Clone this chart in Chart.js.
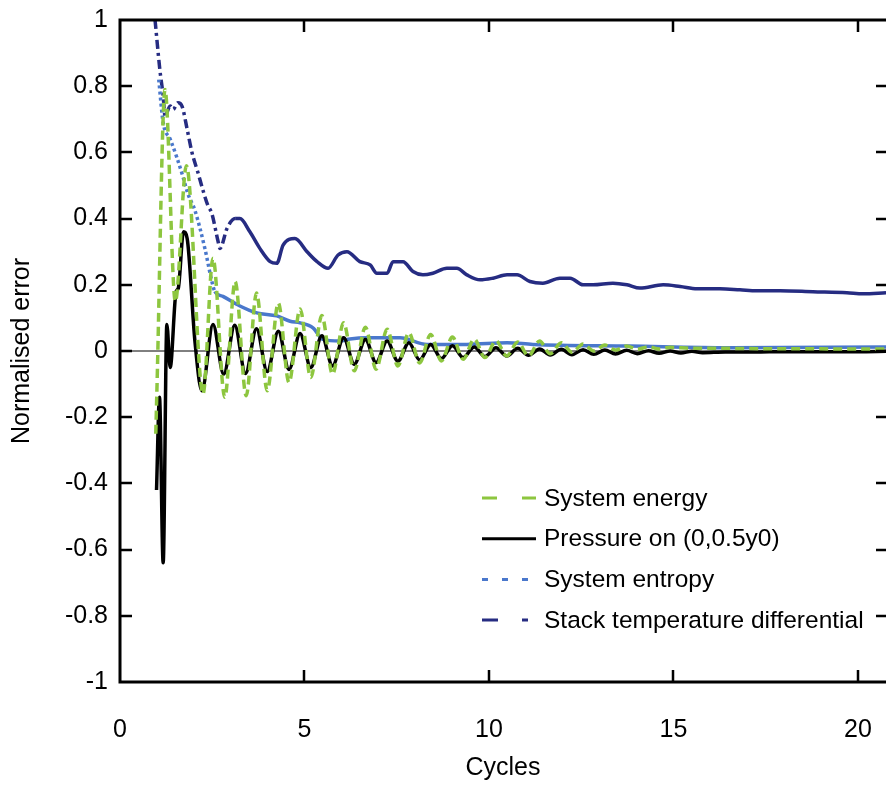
<!DOCTYPE html>
<html>
<head>
<meta charset="utf-8">
<script src="https://cdn.jsdelivr.net/npm/chart.js@4.4.1/dist/chart.umd.min.js"></script>
<style>
  html, body { margin: 0; padding: 0; background: #fff; overflow: hidden; }
  #wrap { width: 886px; height: 793px; position: relative; }
</style>
</head>
<body>
<div id="wrap"><canvas id="chart"></canvas></div>
<script>
// Values, [cycles, normalised error]
const energy = [
    [0.97, -0.25], [1.0, -0.12], [1.22, 0.79], [1.50, 0.15], [1.80, 0.56], [2.25, -0.13],
    [2.52, 0.28], [2.84, -0.14], [3.12, 0.21], [3.42, -0.135], [3.70, 0.175], [3.99, -0.12],
    [4.29, 0.145], [4.58, -0.095], [4.88, 0.127], [5.17, -0.08], [5.47, 0.107], [5.76, -0.07],
    [6.06, 0.085], [6.35, -0.06], [6.65, 0.072], [6.94, -0.055], [7.24, 0.066], [7.53, -0.045],
    [7.83, 0.055], [8.12, -0.036], [8.42, 0.05], [8.71, -0.03], [9.01, 0.042], [9.30, -0.025],
    [9.60, 0.036], [9.89, -0.02], [10.19, 0.031], [10.48, -0.015], [10.78, 0.027], [11.07, -0.015],
    [11.37, 0.03], [11.66, -0.008], [11.96, 0.025], [12.25, -0.004], [12.55, 0.021], [12.84, 0.0],
    [13.14, 0.018], [13.43, 0.003], [13.73, 0.015], [14.02, 0.005], [14.32, 0.013], [14.61, 0.006],
    [14.91, 0.011], [15.5, 0.008], [16.5, 0.008], [17.5, 0.007], [18.5, 0.007], [19.5, 0.006], [20.8, 0.006]
];
const pressure = [
    [0.99, -0.42], [1.07, -0.14], [1.17, -0.64], [1.27, 0.08], [1.36, -0.05], [1.52, 0.18],
    [1.58, 0.19], [1.72, 0.36], [1.82, 0.34], [2.03, 0.03], [2.22, -0.12], [2.52, 0.08],
    [2.81, -0.07], [3.11, 0.078], [3.40, -0.068], [3.70, 0.067], [3.99, -0.062], [4.29, 0.06],
    [4.58, -0.056], [4.88, 0.053], [5.17, -0.05], [5.47, 0.046], [5.76, -0.045], [6.06, 0.04],
    [6.35, -0.04], [6.65, 0.035], [6.94, -0.035], [7.24, 0.03], [7.53, -0.031], [7.83, 0.025],
    [8.12, -0.027], [8.42, 0.02], [8.71, -0.023], [9.01, 0.016], [9.30, -0.02], [9.60, 0.012],
    [9.89, -0.017], [10.19, 0.01], [10.48, -0.015], [10.78, 0.008], [11.07, -0.013], [11.37, 0.006],
    [11.66, -0.012], [11.96, 0.005], [12.25, -0.011], [12.55, 0.004], [12.84, -0.01], [13.14, 0.003],
    [13.43, -0.009], [13.73, 0.002], [14.02, -0.008], [14.32, 0.001], [14.61, -0.007], [14.91, 0.0],
    [15.20, -0.006], [15.50, -0.001], [15.79, -0.005], [16.4, -0.003], [17.2, -0.003], [18.0, -0.002],
    [19.0, -0.002], [20.0, -0.002], [20.8, -0.001]
];
const entropy = [
    [1.05, 0.82], [1.17, 0.69], [1.36, 0.64], [1.54, 0.585], [1.71, 0.525], [1.84, 0.475],
    [2.03, 0.425], [2.30, 0.31], [2.49, 0.21], [2.57, 0.18], [2.79, 0.165], [3.25, 0.136],
    [3.71, 0.115], [4.25, 0.106], [4.61, 0.09], [4.88, 0.085], [5.23, 0.07], [5.50, 0.035],
    [5.96, 0.03], [6.23, 0.036], [6.69, 0.04], [7.59, 0.04], [8.32, 0.02], [9.40, 0.02],
    [10.49, 0.025], [11.19, 0.02], [13.82, 0.015], [16.53, 0.01], [20.76, 0.012]
];
const stack = [
    [0.95, 1.0], [1.08, 0.85], [1.17, 0.77], [1.22, 0.71], [1.36, 0.74], [1.44, 0.73],
    [1.57, 0.75], [1.68, 0.74], [1.82, 0.67], [1.95, 0.60], [2.11, 0.54], [2.25, 0.485],
    [2.38, 0.44], [2.49, 0.415], [2.66, 0.33], [2.71, 0.31], [2.90, 0.37], [3.12, 0.40],
    [3.25, 0.40], [3.52, 0.36], [3.79, 0.31], [4.07, 0.27], [4.25, 0.265], [4.42, 0.32],
    [4.74, 0.34], [5.07, 0.30], [5.34, 0.27], [5.64, 0.25], [5.91, 0.29], [6.15, 0.30],
    [6.50, 0.27], [6.78, 0.26], [6.96, 0.235], [7.24, 0.235], [7.40, 0.27], [7.67, 0.27],
    [7.94, 0.24], [8.21, 0.23], [8.48, 0.235], [8.86, 0.25], [9.13, 0.25], [9.40, 0.23],
    [9.76, 0.215], [10.11, 0.22], [10.49, 0.23], [10.76, 0.23], [11.11, 0.21], [11.46, 0.205],
    [11.92, 0.22], [12.20, 0.22], [12.55, 0.20], [12.82, 0.20], [13.36, 0.205], [13.74, 0.20],
    [14.09, 0.19], [14.72, 0.20], [15.18, 0.195], [15.64, 0.188], [16.26, 0.188], [16.80, 0.185],
    [17.26, 0.182], [17.89, 0.182], [18.78, 0.179], [19.70, 0.176], [20.14, 0.173], [20.76, 0.176]
];
const seriesLabels = ['System energy', 'Pressure on (0,0.5y0)', 'System entropy', 'Stack temperature differential'];
const seriesColors = ['#8dc63f', '#000000', '#4a78cc', '#262c82'];
const legendDashes = [[15, 25], [], [6, 14], [16, 24, 6, 40]];

const FONT = "'Liberation Sans', Arial, sans-serif";
const toPoints = arr => arr.map(p => ({ x: p[0], y: p[1] }));

// axis box, inward ticks on all sides, and the zero line
const framePlugin = {
    id: 'frame',
    beforeDatasetsDraw(chart) {
        const { ctx, chartArea: a, scales: { y } } = chart;
        const y0 = y.getPixelForValue(0);
        ctx.save();
        ctx.strokeStyle = '#000';
        ctx.lineWidth = 1;
        ctx.beginPath();
        ctx.moveTo(a.left, y0);
        ctx.lineTo(a.right, y0);
        ctx.stroke();
        ctx.restore();
    },
    afterDatasetsDraw(chart) {
        const { ctx, chartArea: a, scales: { x, y } } = chart;
        const len = 12;
        ctx.save();
        ctx.strokeStyle = '#000';
        ctx.lineWidth = 3;
        ctx.beginPath();
        ctx.moveTo(a.right + 2, a.top);
        ctx.lineTo(a.left, a.top);
        ctx.lineTo(a.left, a.bottom);
        ctx.lineTo(a.right + 2, a.bottom);
        ctx.stroke();
        ctx.lineWidth = 2.5;
        ctx.beginPath();
        x.ticks.forEach(t => {
            if (t.value === 0) return;
            const px = Math.round(x.getPixelForValue(t.value));
            ctx.moveTo(px, a.bottom);
            ctx.lineTo(px, a.bottom - len);
            ctx.moveTo(px, a.top);
            ctx.lineTo(px, a.top + len);
        });
        y.ticks.forEach(t => {
            if (t.value === 1 || t.value === -1) return;
            const py = Math.round(y.getPixelForValue(t.value));
            ctx.moveTo(a.left, py);
            ctx.lineTo(a.left + len, py);
            ctx.moveTo(a.right, py);
            ctx.lineTo(a.right - 10, py);
        });
        ctx.stroke();
        ctx.restore();
    }
};

const legendPlugin = {
    id: 'boxLegend',
    afterDraw(chart) {
        const ctx = chart.ctx;
        const x0 = 482, x1 = 536, textX = 544, firstY = 498, rowGap = 40.7;
        ctx.save();
        ctx.font = "24.5px " + FONT;
        ctx.textBaseline = 'middle';
        ctx.textAlign = 'left';
        chart.data.datasets.forEach((ds, i) => {
            const yy = firstY + i * rowGap;
            ctx.strokeStyle = ds.borderColor;
            ctx.lineWidth = 3;
            ctx.setLineDash(legendDashes[i]);
            ctx.beginPath();
            ctx.moveTo(x0, yy);
            ctx.lineTo(x1, yy);
            ctx.stroke();
            ctx.setLineDash([]);
            ctx.fillStyle = '#000';
            ctx.fillText(ds.label, textX, yy + 1);
        });
        ctx.restore();
    }
};

new Chart('chart', {
    type: 'line',
    data: {
        datasets: [
            {
                label: seriesLabels[0],
                data: toPoints(energy),
                borderColor: seriesColors[0],
                borderWidth: 3.5,
                borderDash: [9, 5],
            },
            {
                label: seriesLabels[1],
                data: toPoints(pressure),
                borderColor: seriesColors[1],
                borderWidth: 3.5,
            },
            {
                label: seriesLabels[2],
                data: toPoints(entropy),
                borderColor: seriesColors[2],
                borderWidth: 3.5,
                segment: { borderDash: c => c.p0.parsed.x < 2.57 ? [3, 3] : [] },
            },
            {
                label: seriesLabels[3],
                data: toPoints(stack),
                borderColor: seriesColors[3],
                borderWidth: 3.5,
                segment: { borderDash: c => c.p0.parsed.x < 2.95 ? [9, 4, 3, 4] : [] },
            },
        ],
    },
    options: {
        responsive: true,
        maintainAspectRatio: false,
        animation: false,
        elements: {
            point: { radius: 0, hoverRadius: 0 },
            line: { cubicInterpolationMode: 'monotone', fill: false },
        },
        layout: { padding: { top: 20, right: 0, left: 0, bottom: 0 } },
        plugins: {
            legend: { display: false },
            tooltip: { enabled: false },
        },
        scales: {
            x: {
                type: 'linear',
                min: 0,
                max: 20.76,
                grid: { display: false, drawTicks: false },
                border: { display: false },
                ticks: {
                    stepSize: 5,
                    includeBounds: false,
                    padding: 33,
                    color: '#000',
                    maxRotation: 0,
                    font: { family: FONT, size: 25 },
                },
                title: {
                    display: true,
                    text: 'Cycles',
                    color: '#000',
                    font: { family: FONT, size: 25 },
                    padding: { top: 0, bottom: 10 },
                },
                afterFit: s => {
                    s.height = 111;
                    s.paddingLeft = 0;
                    s.paddingRight = 0;
                },
            },
            y: {
                min: -1,
                max: 1,
                grid: { display: false, drawTicks: false },
                border: { display: false },
                ticks: {
                    stepSize: 0.2,
                    padding: 12,
                    color: '#000',
                    font: { family: FONT, size: 25 },
                    callback: v => String(Number(v.toFixed(1))),
                },
                title: {
                    display: true,
                    text: 'Normalised error',
                    color: '#000',
                    font: { family: FONT, size: 25 },
                    padding: { top: 7, bottom: 0 },
                },
                afterFit: s => {
                    s.width = 120;
                    s.paddingTop = 0;
                    s.paddingBottom = 0;
                },
            },
        },
    },
    plugins: [framePlugin, legendPlugin],
});
</script>
</body>
</html>
